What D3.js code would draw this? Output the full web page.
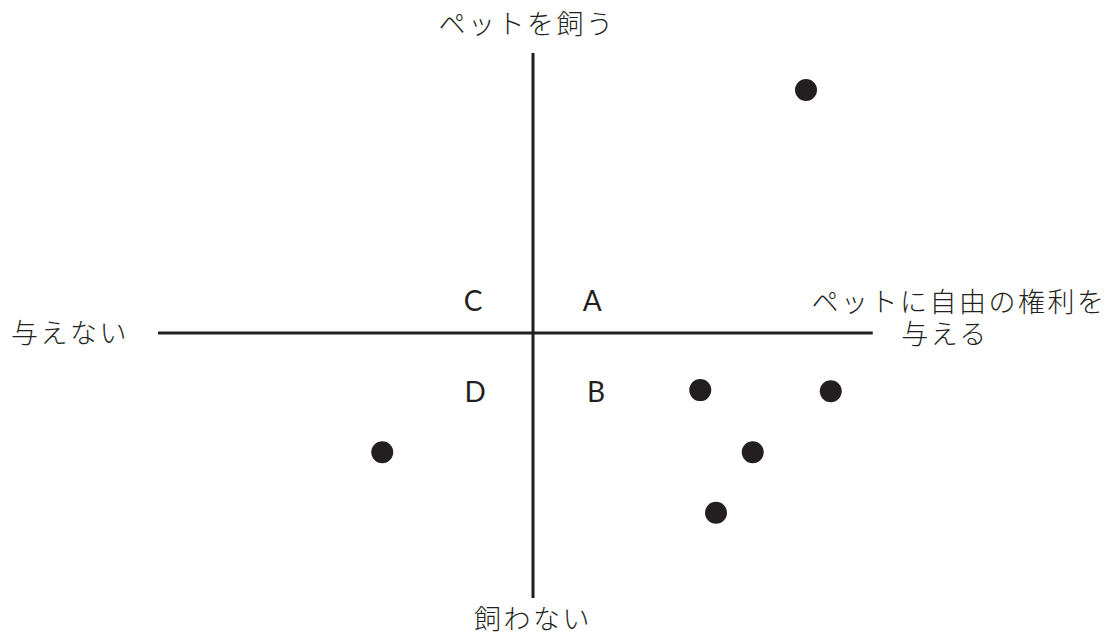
<!DOCTYPE html>
<html>
<head>
<meta charset="utf-8">
<script src="https://cdn.jsdelivr.net/npm/d3@7"></script>
<style>
  body { margin: 0; background: #fff; }
  .jp { font-family: "Noto Sans CJK JP", sans-serif; font-weight: 300; fill: #231f20; }
  .quad { font-family: "Lato", "Noto Sans", sans-serif; fill: #231f20; }
</style>
</head>
<body>
<div id="chart"></div>
<script>
// data (axis units: origin at the crossing of the two axes)
const pointX = [3.64, 2.23, 3.97, 2.93, 2.44, -2.01]
const pointY = [4.34, -1.02, -1.04, -2.13, -3.21, -2.13]

const quadrants = ["A", "B", "C", "D"]
const quadX = [0.79, 0.84, -0.8, -0.77]
const quadY = [0.59, -1.04, 0.59, -1.04]

// axis extents
const xExtent = [-5, 4.53]
const yExtent = [-4.73, 5]

const width = 1120, height = 637

const x = d3.scaleLinear().domain([-5, 5]).range([158, 908])
const y = d3.scaleLinear().domain([-5, 5]).range([613, 53])

const svg = d3.select("#chart")
    .append("svg")
    .attr("width", width)
    .attr("height", height)

// axes
svg.append("line")
    .attr("x1", x(xExtent[0]))
    .attr("x2", x(xExtent[1]))
    .attr("y1", y(0))
    .attr("y2", y(0))
    .attr("stroke", "#231f20")
    .attr("stroke-width", 3)

svg.append("line")
    .attr("x1", x(0))
    .attr("x2", x(0))
    .attr("y1", y(yExtent[1]))
    .attr("y2", y(yExtent[0]))
    .attr("stroke", "#231f20")
    .attr("stroke-width", 3)

// quadrant letters
svg.selectAll(".quad")
    .data(quadrants)
    .enter().append("text")
    .attr("class", "quad")
    .attr("x", (d, i) => x(quadX[i]))
    .attr("y", (d, i) => y(quadY[i]))
    .attr("text-anchor", "middle")
    .attr("dominant-baseline", "central")
    .style("font-size", "28px")
    .text(d => d)

// axis labels
const labels = [
    { text: "ペットを飼う", x: 527, y: 22 },
    { text: "飼わない", x: 533, y: 617 },
    { text: "与えない", x: 70, y: 331 },
    { text: "ペットに自由の権利を", x: 959, y: 300 },
    { text: "与える", x: 945, y: 332 }
]

svg.selectAll(".jp")
    .data(labels)
    .enter().append("text")
    .attr("class", "jp")
    .attr("x", d => d.x)
    .attr("y", d => d.y)
    .attr("text-anchor", "middle")
    .attr("dominant-baseline", "central")
    .style("font-size", "27px")
    .style("letter-spacing", "2.5px")
    .text(d => d.text)

// points
svg.selectAll("circle")
    .data(pointX)
    .enter().append("circle")
    .attr("cx", d => x(d))
    .attr("cy", (d, i) => y(pointY[i]))
    .attr("r", 11)
    .attr("fill", "#231f20")
</script>
</body>
</html>
